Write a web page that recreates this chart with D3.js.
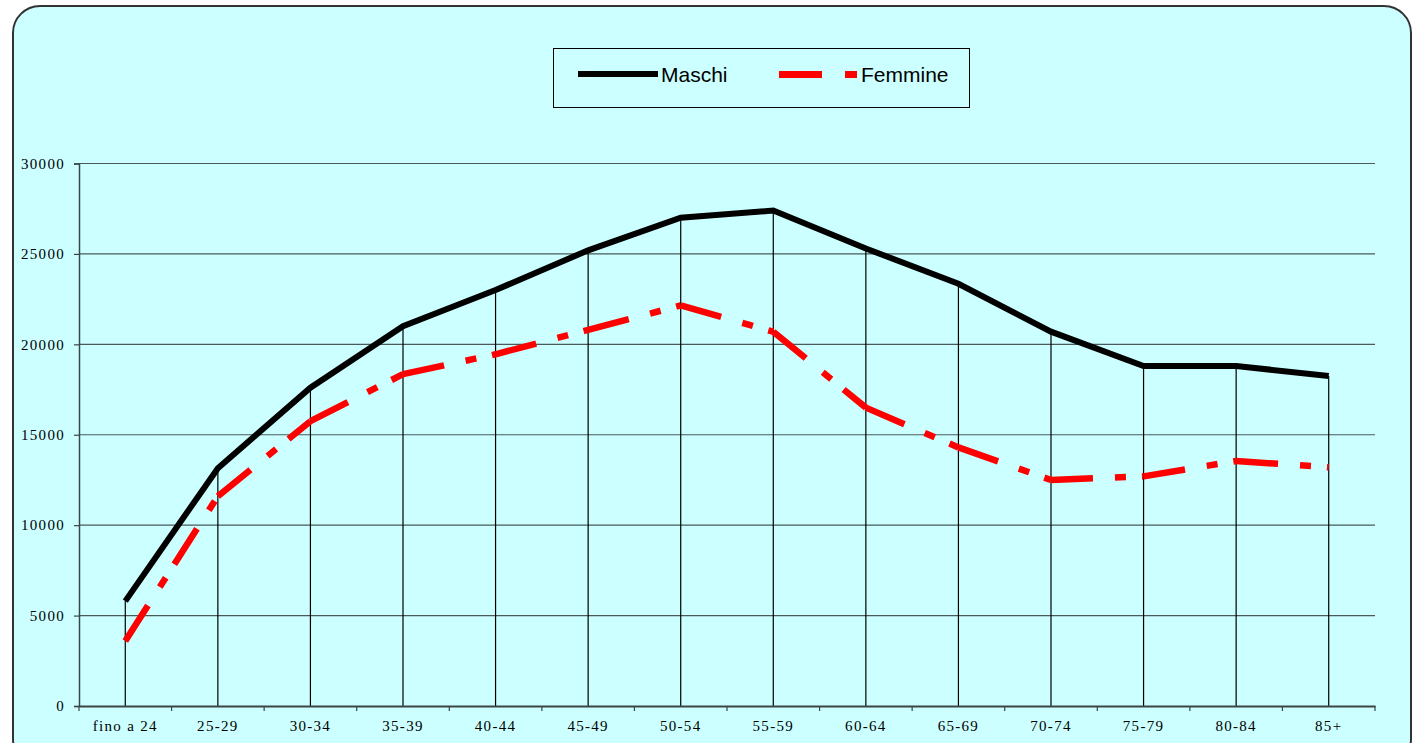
<!DOCTYPE html>
<html>
<head>
<meta charset="utf-8">
<script src="https://cdn.jsdelivr.net/npm/d3@7/dist/d3.min.js"></script>
<style>
  html, body { margin: 0; padding: 0; background: #ffffff; }
  svg { display: block; }
</style>
</head>
<body>
<svg id="chart" width="1413" height="743"></svg>
<script>
const categories = ["fino a 24","25-29","30-34","35-39","40-44","45-49","50-54","55-59","60-64","65-69","70-74","75-79","80-84","85+"];
const maschi   = [5800, 13150, 17600, 21000, 23000, 25200, 27000, 27400, 25300, 23350, 20700, 18800, 18800, 18250];
const femmine  = [3600, 11600, 15750, 18350, 19450, 20800, 22150, 20700, 16500, 14300, 12500, 12700, 13550, 13200];
const yTicks   = [0, 5000, 10000, 15000, 20000, 25000, 30000];
const seriesNames = ["Maschi", "Femmine"];

(function () {
const svg = d3.select("#chart");

// outer frame
svg.append("rect")
  .attr("x", 13).attr("y", 6).attr("width", 1398).attr("height", 760)
  .attr("rx", 27).attr("ry", 27)
  .attr("fill", "#CCFFFF").attr("stroke", "#333333").attr("stroke-width", 2);

const pLeft = 79, pRight = 1375, pTop = 163.5, pBottom = 706;

const x = d3.scaleBand().domain(categories).range([pLeft, pRight]).padding(0);
const y = d3.scaleLinear().domain([0, 30000]).range([pBottom, pTop]);
const cx = c => x(c) + x.bandwidth() / 2;

// gridlines
svg.append("g").selectAll("line").data(yTicks.filter(t => t > 0)).join("line")
  .attr("x1", pLeft).attr("x2", pRight)
  .attr("y1", d => y(d)).attr("y2", d => y(d))
  .attr("stroke", "#4a5a5a").attr("stroke-width", 1.2);

// drop lines
svg.append("g").selectAll("line").data(categories).join("line")
  .attr("x1", d => cx(d)).attr("x2", d => cx(d))
  .attr("y1", (d, i) => y(Math.max(maschi[i], femmine[i])))
  .attr("y2", y(0))
  .attr("stroke", "#000").attr("stroke-width", 1.2);

// y axis
const yAxis = d3.axisLeft(y).tickValues(yTicks).tickSize(5).tickPadding(9).tickFormat(d3.format("d"));
const yg = svg.append("g").attr("transform", `translate(${pLeft},0)`).call(yAxis);
yg.select(".domain").attr("stroke", "#3a4545").attr("stroke-width", 1.5);
yg.selectAll(".tick line").attr("stroke", "#3a4545").attr("stroke-width", 1.2);
yg.selectAll(".tick text")
  .attr("font-family", "'Liberation Serif', 'Times New Roman', serif")
  .attr("font-size", 15).attr("letter-spacing", "1.3px").attr("fill", "#000");

// x axis
const xAxis = d3.axisBottom(x).tickSize(0).tickPadding(20);
const xg = svg.append("g").attr("transform", `translate(0,${pBottom})`).call(xAxis);
xg.select(".domain").attr("stroke", "#3a4545").attr("stroke-width", 2);
xg.selectAll(".tick text")
  .attr("font-family", "'Liberation Serif', 'Times New Roman', serif")
  .attr("font-size", 15).attr("letter-spacing", "1.3px").attr("fill", "#000")
  .attr("dy", "0.35em");
// boundary ticks
const bounds = categories.map(c => x(c)).concat([pRight]);
svg.append("g").selectAll("line").data(bounds).join("line")
  .attr("x1", d => d).attr("x2", d => d)
  .attr("y1", pBottom).attr("y2", pBottom + 5)
  .attr("stroke", "#3a4545").attr("stroke-width", 1.2);

// Maschi line
const line = d3.line().x(d => d[0]).y(d => d[1]);
const mPts = categories.map((c, i) => [cx(c), y(maschi[i])]);
svg.append("path").attr("d", line(mPts))
  .attr("fill", "none").attr("stroke", "#000").attr("stroke-width", 6)
  .attr("stroke-linejoin", "miter");

// Femmine: dash pattern restarts at each segment
const fPts = categories.map((c, i) => [cx(c), y(femmine[i])]);
const segs = d3.pairs(fPts);
svg.append("g").selectAll("path").data(segs).join("path")
  .attr("d", d => line(d))
  .attr("fill", "none").attr("stroke", "#FF0000").attr("stroke-width", 6.5)
  .attr("stroke-dasharray", "42,22,11,16");

// legend
const lg = svg.append("g");
lg.append("rect").attr("x", 553.5).attr("y", 48.5).attr("width", 416).attr("height", 59)
  .attr("fill", "none").attr("stroke", "#000").attr("stroke-width", 1);
lg.append("line").attr("x1", 578).attr("x2", 658).attr("y1", 74).attr("y2", 74)
  .attr("stroke", "#000").attr("stroke-width", 6);
lg.append("text").attr("x", 661).attr("y", 82).text(seriesNames[0])
  .attr("font-family", "'Liberation Sans', Arial, sans-serif").attr("font-size", 21).attr("fill", "#000");
lg.append("line").attr("x1", 779).attr("x2", 857).attr("y1", 74.5).attr("y2", 74.5)
  .attr("stroke", "#FF0000").attr("stroke-width", 7).attr("stroke-dasharray", "43,23,12,100");
lg.append("text").attr("x", 861).attr("y", 82).text(seriesNames[1])
  .attr("font-family", "'Liberation Sans', Arial, sans-serif").attr("font-size", 21).attr("fill", "#000");
})();
</script>
</body>
</html>
